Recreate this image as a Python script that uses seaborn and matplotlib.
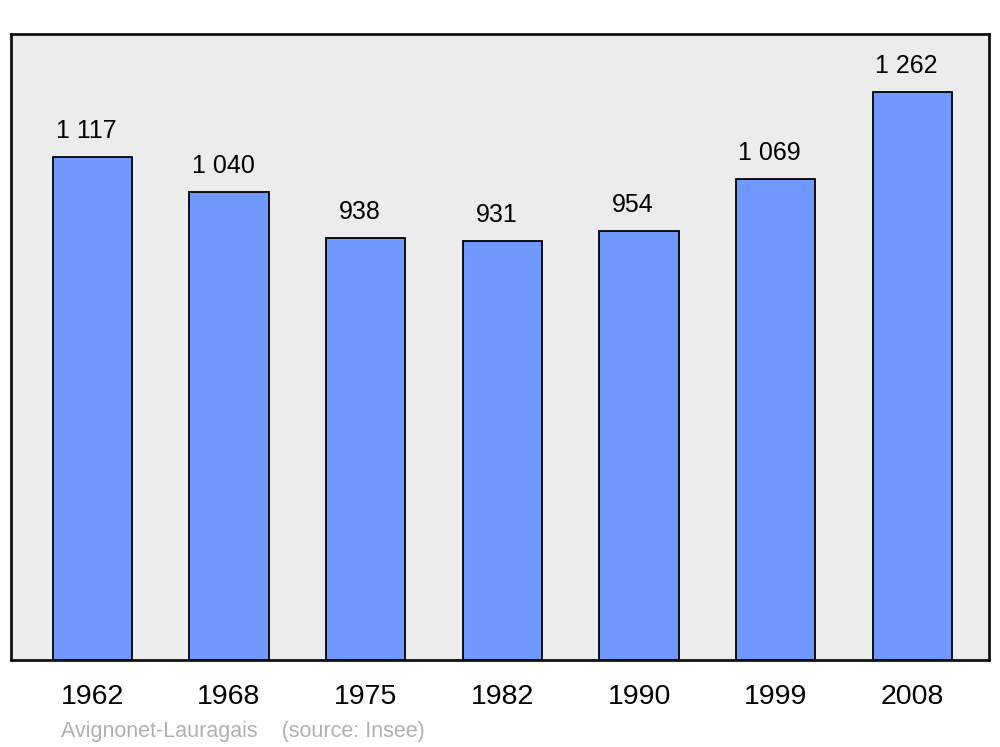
import matplotlib
matplotlib.use("Agg")
import matplotlib.pyplot as plt
import pandas as pd
import seaborn as sns

years = ["1962", "1968", "1975", "1982", "1990", "1999", "2008"]
population = [1117, 1040, 938, 931, 954, 1069, 1262]
value_labels = ["1 117", "1 040", "938", "931", "954", "1 069", "1 262"]
commune = "Avignonet-Lauragais"
source = "(source: Insee)"

sns.set_theme(style="white")
plt.rcParams["font.family"] = ["Liberation Sans", "DejaVu Sans"]

df = pd.DataFrame({"year": years, "pop": population})

fig = plt.figure(figsize=(10, 7.47), dpi=100)
ax = fig.add_axes([0.011, 0.1165, 0.978, 0.838])
ax.set_facecolor("#ececec")

sns.barplot(data=df, x="year", y="pop", color="#7099ff", saturation=1,
            width=0.58, edgecolor="black", linewidth=1.3, ax=ax)

for i, (v, lab) in enumerate(zip(population, value_labels)):
    ax.annotate(lab, (i, v), xytext=(-6, 19), textcoords="offset pixels",
                ha="center", va="baseline", fontsize=18, color="black")

ax.set_xlim(-0.595, 6.56)
ax.set_ylim(0, 1391)
ax.set_yticks([])
ax.set_xlabel("")
ax.set_ylabel("")
ax.tick_params(axis="x", length=0, pad=17, labelsize=20.5, labelcolor="black")
for s in ax.spines.values():
    s.set_color("#111111")
    s.set_linewidth(2)

fig.text(0.061, 0.0134, f"{commune}    {source}", color="#b0b0b0",
         fontsize=15.5, ha="left", va="baseline")

fig.savefig("out.png", dpi=100)
